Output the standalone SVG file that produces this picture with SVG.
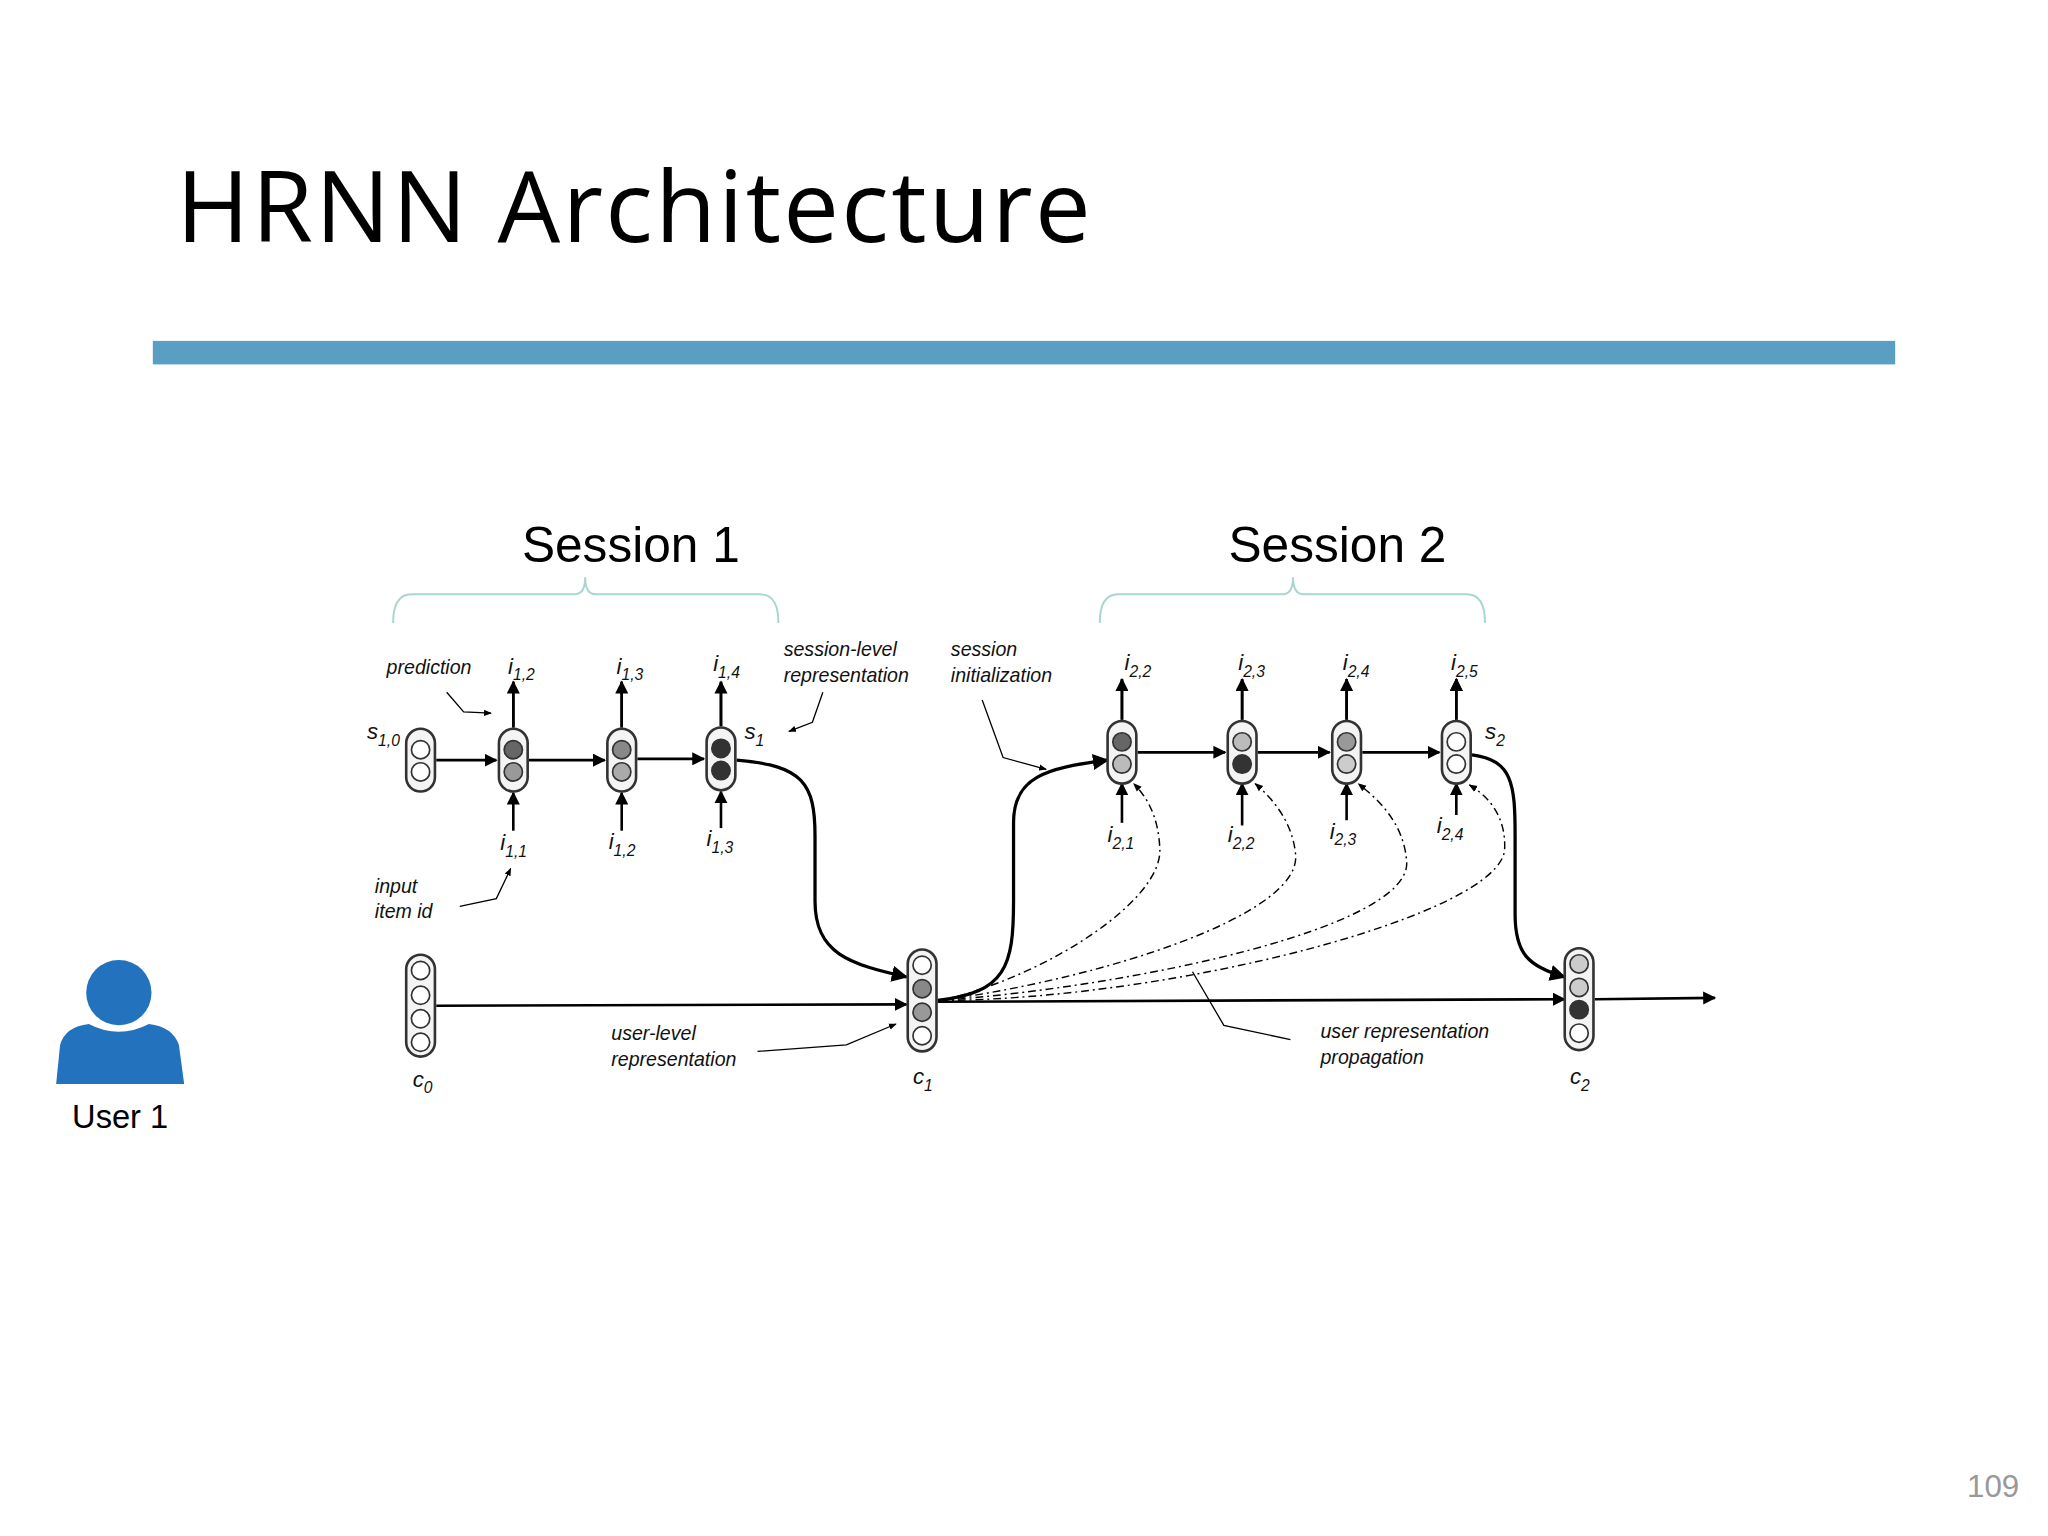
<svg xmlns="http://www.w3.org/2000/svg" width="2048" height="1536" viewBox="0 0 2048 1536">
<defs>
<marker id="ah" viewBox="0 0 10 10" refX="9" refY="5" markerWidth="5" markerHeight="5" orient="auto"><path d="M0,0L10,5L0,10z" fill="#000"/></marker>
<marker id="as" viewBox="0 0 10 10" refX="9" refY="5" markerWidth="6" markerHeight="6" orient="auto"><path d="M0,1L10,5L0,9z" fill="#000"/></marker>
</defs>
<style>
.t{font-family:"Liberation Sans",Arial,sans-serif;font-style:italic;font-size:15px;fill:#111}
.v{font-family:"Liberation Sans",Arial,sans-serif;font-style:italic;font-size:17px;fill:#111}
.sub{font-size:12px}
.pill{fill:#f4f4f4;stroke:#333;stroke-width:2}
.c{stroke:#333;stroke-width:1.3}
.ln{fill:none;stroke:#000;stroke-width:2}
.th{fill:none;stroke:#000;stroke-width:2.5}
.pt{fill:none;stroke:#000;stroke-width:1}
.dd{fill:none;stroke:#000;stroke-width:1.1;stroke-dasharray:6 3 1.5 3}
.br{fill:none;stroke:#a9d6d0;stroke-width:1.5}
</style>
<rect width="2048" height="1536" fill="#fff"/>
<g transform="scale(1.30612)">
<text x="135" y="185" font-family="Open Sans,Liberation Sans,sans-serif" font-size="76" textLength="700" fill="#000">HRNN Architecture</text>
<rect x="117" y="261" width="1334" height="18" fill="#5b9ec3"/>
<text x="483" y="430" font-family="Liberation Sans,Arial,sans-serif" font-size="38" text-anchor="middle">Session 1</text>
<text x="1024" y="430" font-family="Liberation Sans,Arial,sans-serif" font-size="38" text-anchor="middle">Session 2</text>
<path class="br" d="M301,477 Q301,455 315,455 L440,455 Q448,455 448,442 Q448,455 456,455 L582,455 Q596,455 596,477"/>
<path class="br" d="M842,477 Q842,455 856,455 L982,455 Q990,455 990,442 Q990,455 998,455 L1123,455 Q1137,455 1137,477"/>

<g id="connectors">
<path class="ln" d="M334,582H380" marker-end="url(#ah)"/>
<path class="ln" d="M405,582H463" marker-end="url(#ah)"/>
<path class="ln" d="M488,581H539" marker-end="url(#ah)"/>
<path class="ln" d="M871,576H938" marker-end="url(#ah)"/>
<path class="ln" d="M963,576H1018" marker-end="url(#ah)"/>
<path class="ln" d="M1043,576H1102" marker-end="url(#ah)"/>
<path class="ln" d="M393,557V522M476,557V522M552,556V522M859,551V520M951,551V520M1031,551V520M1115,551V520" marker-end="url(#ah)"/>
<path class="ln" d="M393,557V522" marker-end="url(#ah)"/><path class="ln" d="M476,557V522" marker-end="url(#ah)"/><path class="ln" d="M552,556V522" marker-end="url(#ah)"/>
<path class="ln" d="M859,551V520" marker-end="url(#ah)"/><path class="ln" d="M951,551V520" marker-end="url(#ah)"/><path class="ln" d="M1031,551V520" marker-end="url(#ah)"/><path class="ln" d="M1115,551V520" marker-end="url(#ah)"/>
<path class="ln" d="M393,636V607" marker-end="url(#ah)"/><path class="ln" d="M476,636V607" marker-end="url(#ah)"/><path class="ln" d="M552,634V606" marker-end="url(#ah)"/>
<path class="ln" d="M859,630V600" marker-end="url(#ah)"/><path class="ln" d="M951,632V600" marker-end="url(#ah)"/><path class="ln" d="M1031,628V600" marker-end="url(#ah)"/><path class="ln" d="M1115,624V600" marker-end="url(#ah)"/>
<path class="th" d="M564,582 C615,586 624,600 624,640 L624,690 C624,730 650,738 694,748" marker-end="url(#ah)"/>
<path class="th" d="M718,766 C770,760 776,740 776,690 L776,630 C776,595 800,588 848,582" marker-end="url(#ah)"/>
<path class="th" d="M1127,578 C1158,582 1160,600 1160,640 L1160,700 C1160,730 1170,740 1198,748" marker-end="url(#ah)"/>
<path class="ln" d="M334,770L694,769" marker-end="url(#ah)"/>
<path class="ln" d="M718,767L1198,765" marker-end="url(#ah)"/>
<path class="ln" d="M1221,765L1313,764" marker-end="url(#ah)"/>
<path class="dd" d="M720,766 C800,748 890,690 888,650 C887,625 878,610 868,600" marker-end="url(#as)"/>
<path class="dd" d="M720,766 C850,748 995,700 992,655 C990,630 975,612 961,600" marker-end="url(#as)"/>
<path class="dd" d="M720,766 C870,755 1080,710 1077,660 C1075,630 1055,612 1040,600" marker-end="url(#as)"/>
<path class="dd" d="M720,766 C900,765 1150,700 1152,650 C1153,625 1140,610 1125,601" marker-end="url(#as)"/>
<path class="pt" d="M342,530L355,545L376,546" marker-end="url(#as)"/>
<path class="pt" d="M352,694L380,688L391,665" marker-end="url(#as)"/>
<path class="pt" d="M630,530L622,553L604,560" marker-end="url(#as)"/>
<path class="pt" d="M752,536L768,580L801,589" marker-end="url(#as)"/>
<path class="pt" d="M580,805L648,800L686,784" marker-end="url(#as)"/>
<path class="pt" d="M988,796L937,785L913,744"/>
</g>

<g id="s10"><rect class="pill" x="311" y="558" width="22" height="48" rx="11"/><circle class="c" cx="322" cy="574" r="7" fill="#fff"/><circle class="c" cx="322" cy="591" r="7" fill="#fff"/></g>
<g id="n11"><rect class="pill" x="382" y="558" width="22" height="48" rx="11"/><circle class="c" cx="393" cy="574" r="7" fill="#666"/><circle class="c" cx="393" cy="591" r="7" fill="#999"/></g>
<g id="n12"><rect class="pill" x="465" y="558" width="22" height="48" rx="11"/><circle class="c" cx="476" cy="574" r="7" fill="#888"/><circle class="c" cx="476" cy="591" r="7" fill="#aaa"/></g>
<g id="n13"><rect class="pill" x="541" y="557" width="22" height="48" rx="11"/><circle class="c" cx="552" cy="573" r="7" fill="#333"/><circle class="c" cx="552" cy="590" r="7" fill="#333"/></g>
<g id="n21"><rect class="pill" x="848" y="552" width="22" height="48" rx="11"/><circle class="c" cx="859" cy="568" r="7" fill="#666"/><circle class="c" cx="859" cy="585" r="7" fill="#bbb"/></g>
<g id="n22"><rect class="pill" x="940" y="552" width="22" height="48" rx="11"/><circle class="c" cx="951" cy="568" r="7" fill="#bbb"/><circle class="c" cx="951" cy="585" r="7" fill="#333"/></g>
<g id="n23"><rect class="pill" x="1020" y="552" width="22" height="48" rx="11"/><circle class="c" cx="1031" cy="568" r="7" fill="#999"/><circle class="c" cx="1031" cy="585" r="7" fill="#ccc"/></g>
<g id="n24"><rect class="pill" x="1104" y="552" width="22" height="48" rx="11"/><circle class="c" cx="1115" cy="568" r="7" fill="#fff"/><circle class="c" cx="1115" cy="585" r="7" fill="#fff"/></g>
<g id="c0"><rect class="pill" x="311" y="731" width="22" height="78" rx="11"/><circle class="c" cx="322" cy="743" r="7" fill="#fff"/><circle class="c" cx="322" cy="762" r="7" fill="#fff"/><circle class="c" cx="322" cy="780" r="7" fill="#fff"/><circle class="c" cx="322" cy="798" r="7" fill="#fff"/></g>
<g id="c1"><rect class="pill" x="695" y="727" width="22" height="78" rx="11"/><circle class="c" cx="706" cy="739" r="7" fill="#fff"/><circle class="c" cx="706" cy="757" r="7" fill="#888"/><circle class="c" cx="706" cy="775" r="7" fill="#999"/><circle class="c" cx="706" cy="793" r="7" fill="#fff"/></g>
<g id="c2"><rect class="pill" x="1198" y="726" width="22" height="78" rx="11"/><circle class="c" cx="1209" cy="738" r="7" fill="#ccc"/><circle class="c" cx="1209" cy="756" r="7" fill="#ccc"/><circle class="c" cx="1209" cy="773" r="7" fill="#333"/><circle class="c" cx="1209" cy="791" r="7" fill="#fff"/></g>

<g id="labels">
<text class="t" x="296" y="516">prediction</text>
<text class="t" x="287" y="684">input</text><text class="t" x="287" y="703">item id</text>
<text class="t" x="600" y="502">session-level</text><text class="t" x="600" y="522">representation</text>
<text class="t" x="728" y="502">session</text><text class="t" x="728" y="522">initialization</text>
<text class="t" x="468" y="796">user-level</text><text class="t" x="468" y="816">representation</text>
<text class="t" x="1011" y="795">user representation</text><text class="t" x="1011" y="815">propagation</text>
<text class="v" x="281" y="566">s<tspan class="sub" dy="5">1,0</tspan></text>
<text class="v" x="570" y="566">s<tspan class="sub" dy="5">1</tspan></text>
<text class="v" x="1137" y="566">s<tspan class="sub" dy="5">2</tspan></text>
<text class="v" x="316" y="832">c<tspan class="sub" dy="5">0</tspan></text>
<text class="v" x="699" y="830">c<tspan class="sub" dy="5">1</tspan></text>
<text class="v" x="1202" y="830">c<tspan class="sub" dy="5">2</tspan></text>
<text class="v" x="389" y="516">i<tspan class="sub" dy="5">1,2</tspan></text>
<text class="v" x="472" y="516">i<tspan class="sub" dy="5">1,3</tspan></text>
<text class="v" x="546" y="514">i<tspan class="sub" dy="5">1,4</tspan></text>
<text class="v" x="861" y="513">i<tspan class="sub" dy="5">2,2</tspan></text>
<text class="v" x="948" y="513">i<tspan class="sub" dy="5">2,3</tspan></text>
<text class="v" x="1028" y="513">i<tspan class="sub" dy="5">2,4</tspan></text>
<text class="v" x="1111" y="513">i<tspan class="sub" dy="5">2,5</tspan></text>
<text class="v" x="383" y="651">i<tspan class="sub" dy="5">1,1</tspan></text>
<text class="v" x="466" y="650">i<tspan class="sub" dy="5">1,2</tspan></text>
<text class="v" x="541" y="648">i<tspan class="sub" dy="5">1,3</tspan></text>
<text class="v" x="848" y="645">i<tspan class="sub" dy="5">2,1</tspan></text>
<text class="v" x="940" y="645">i<tspan class="sub" dy="5">2,2</tspan></text>
<text class="v" x="1018" y="642">i<tspan class="sub" dy="5">2,3</tspan></text>
<text class="v" x="1100" y="638">i<tspan class="sub" dy="5">2,4</tspan></text>
</g>

<g id="user">
<circle cx="91" cy="760" r="25" fill="#2272bd"/>
<path d="M43,830 L46,800 Q50,786 68,784 Q91,796 114,784 Q132,786 137,800 L141,830 Z" fill="#2272bd"/>
<text x="92" y="864" font-family="Liberation Sans,Arial,sans-serif" font-size="25" text-anchor="middle">User 1</text>
</g>
<text x="1546" y="1146" font-family="Liberation Sans,Arial,sans-serif" font-size="24" fill="#999" text-anchor="end">109</text>
</g>
</svg>
